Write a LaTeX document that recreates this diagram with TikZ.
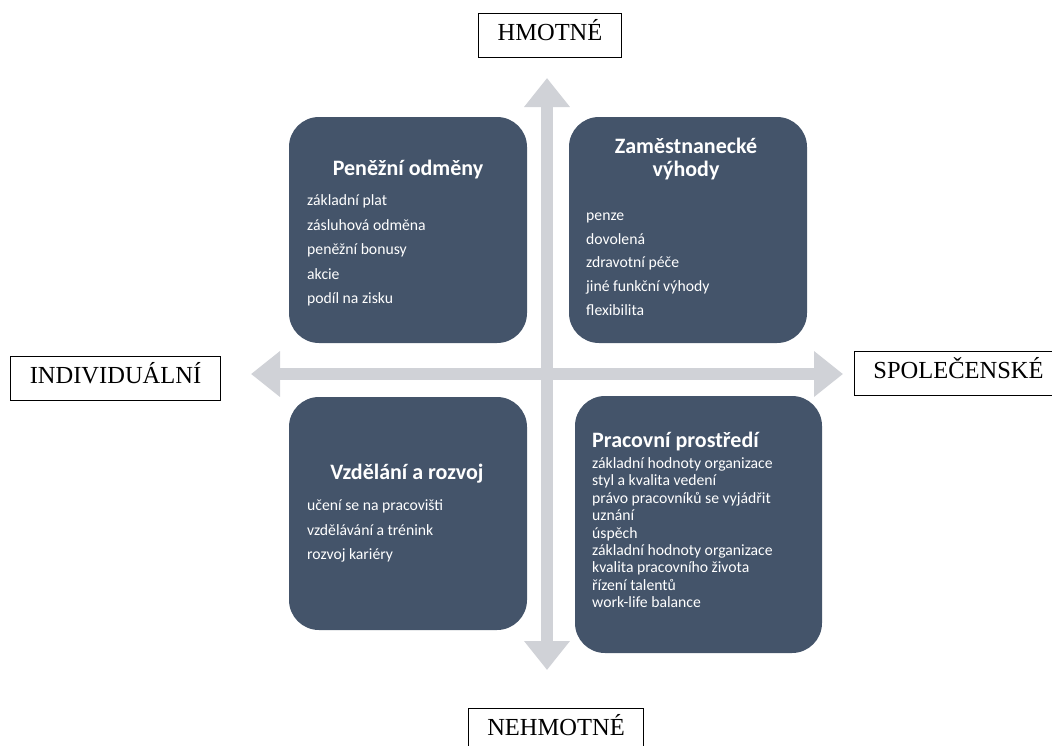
\documentclass[tikz,border=0pt]{standalone}
\definecolor{slate}{RGB}{68,84,106}
\definecolor{axisgray}{RGB}{208,210,215}
\usepackage{fontspec}
\setmainfont{Liberation Serif}
\newfontfamily\boxfont{Carlito}
\usepackage{tikz}
\usetikzlibrary{arrows.meta, positioning, calc}

\tikzset{
  quad/.style={fill=slate, rounded corners=30pt, draw=none, inner sep=0pt},
  qtitle/.style={text=white, font=\boxfont\bfseries\fontsize{22}{23}\selectfont, align=center, inner sep=0pt, text height=0.72em, text depth=0.22em},
  qitem/.style={text=white, font=\boxfont\fontsize{15.7}{17}\selectfont, anchor=west, inner sep=0pt, text height=0.72em, text depth=0.22em},
  axislabel/.style={draw=black, line width=0.9pt, font=\fontsize{24.5}{28}\selectfont, inner xsep=19pt, minimum height=44pt, text height=1.1em, text depth=0.05em},
  axis/.style={axisgray, line width=12pt, {Triangle[width=44pt, length=29pt]}-{Triangle[width=44pt, length=29pt]}}
}

\begin{document}
\begin{tikzpicture}[x=1pt, y=-1pt]
  \useasboundingbox (0,0) rectangle (1052,745);

  % Axes
  \coordinate (tipN) at (547,78);
  \coordinate (tipS) at (547,670);
  \coordinate (tipW) at (251,374);
  \coordinate (tipE) at (843,374);
  \draw[axis] (tipS) -- (tipN);
  \draw[axis] (tipW) -- (tipE);

  % Axis labels
  \node[axislabel] (hmotne) at (550,35) {HMOTNÉ};
  \node[axislabel, anchor=north] (nehmotne) at (556,708) {NEHMOTNÉ};
  \node[axislabel] (indiv) at (115.5,378) {INDIVIDUÁLNÍ};
  \node[axislabel, anchor=west] (spol) at (854,373) {SPOLEČENSKÉ};

  % Quadrant boxes
  \node[quad, minimum width=238pt, minimum height=226pt] (penize) at (408,230) {};
  \node[quad, minimum width=238pt, minimum height=226pt] (vyhody) at (688,230) {};
  \node[quad, minimum width=238pt, minimum height=233pt] (rozvoj) at (408,513.5) {};
  \node[quad, minimum width=247pt, minimum height=257pt] (prostredi) at (698.5,524.5) {};

  % Top left
  \node[qtitle] (penizeT) at (408,173) {Peněžní odměny};
  \foreach \t [count=\i] in {základní plat, zásluhová odměna, peněžní bonusy, akcie, podíl na zisku}
    \node[qitem] (penize\i) at (307,{203+24.5*(\i-1)}) {\t};

  % Top right
  \node[qtitle] (vyhodyT) at (686,173.5) {Zaměstnanecké\\výhody};
  \foreach \t [count=\i] in {penze, dovolená, zdravotní péče, jiné funkční výhody, flexibilita}
    \node[qitem] (vyhody\i) at (586,{218+23.7*(\i-1)}) {\t};

  % Bottom left
  \node[qtitle] (rozvojT) at (407,477) {Vzdělání a rozvoj};
  \foreach \t [count=\i] in {učení se na pracovišti, vzdělávání a trénink, rozvoj kariéry}
    \node[qitem] (rozvoj\i) at (307,{508+24.5*(\i-1)}) {\t};

  % Bottom right
  \node[qtitle, anchor=west] (prostrediT) at (592,445) {Pracovní prostředí};
  \foreach \t [count=\i] in {základní hodnoty organizace, styl a kvalita vedení, právo pracovníků se vyjádřit, uznání, úspěch, základní hodnoty organizace, kvalita pracovního života, řízení talentů, work-life balance}
    \node[qitem] (prostredi\i) at (592,{466+17.4*(\i-1)}) {\t};
\end{tikzpicture}
\end{document}
